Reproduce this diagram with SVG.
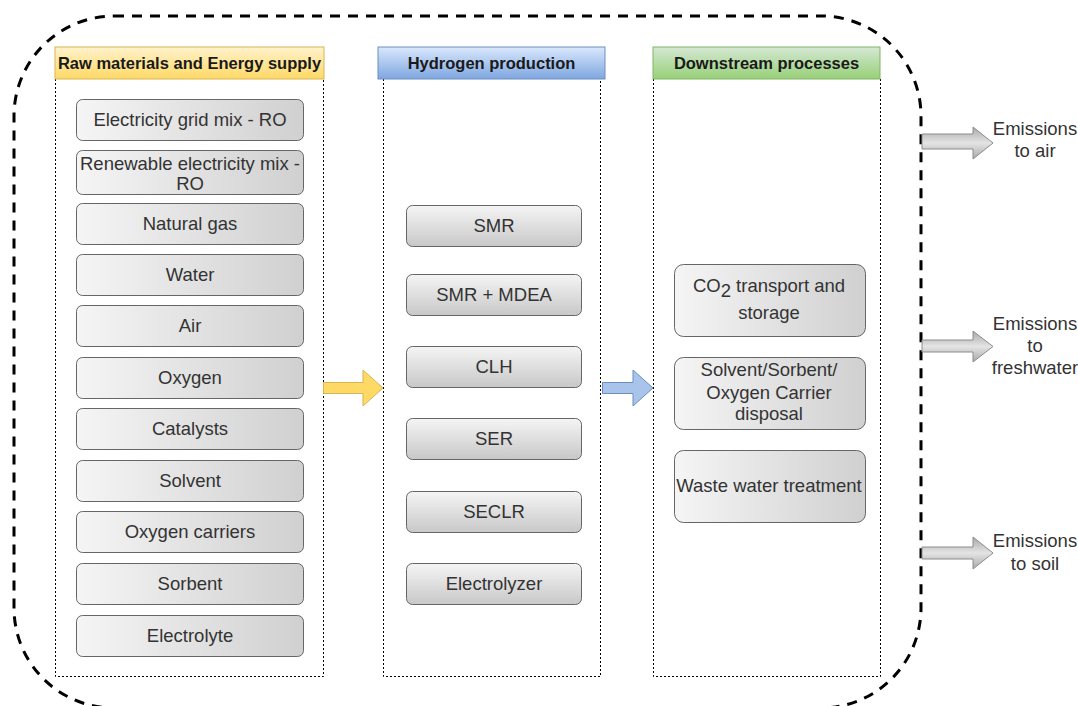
<svg xmlns="http://www.w3.org/2000/svg" width="1078" height="706" viewBox="0 0 1078 706">
<defs>
<linearGradient id="gEast" x1="0" y1="0" x2="1" y2="0"><stop offset="0" stop-color="#f5f5f5"/><stop offset="1" stop-color="#d0d0d0"/></linearGradient>
<linearGradient id="gSouth" x1="0" y1="0" x2="0" y2="1"><stop offset="0" stop-color="#f5f5f5"/><stop offset="1" stop-color="#c8c8c8"/></linearGradient>
<linearGradient id="gYellow" x1="0" y1="0" x2="0" y2="1"><stop offset="0" stop-color="#fff2cc"/><stop offset="1" stop-color="#ffd966"/></linearGradient>
<linearGradient id="gBlue" x1="0" y1="0" x2="0" y2="1"><stop offset="0" stop-color="#dae8fc"/><stop offset="1" stop-color="#7ea6e0"/></linearGradient>
<linearGradient id="gGreen" x1="0" y1="0" x2="0" y2="1"><stop offset="0" stop-color="#d5e8d4"/><stop offset="1" stop-color="#97d077"/></linearGradient>
<linearGradient id="gGray" x1="0" y1="0" x2="0" y2="1"><stop offset="0" stop-color="#a8a8a8"/><stop offset="0.5" stop-color="#e4e4e4"/><stop offset="1" stop-color="#a8a8a8"/></linearGradient>
<style>
text{font-family:"Liberation Sans",Arial,sans-serif;}
.lbl{font-size:18.5px;fill:#333333;text-anchor:middle;}
.hdr{font-size:16.5px;font-weight:bold;fill:#1a1a1a;text-anchor:middle;}
.be{fill:url(#gEast);stroke:#666666;stroke-width:1;}
.bs{fill:url(#gSouth);stroke:#666666;stroke-width:1;}
.col{fill:none;stroke:#000000;stroke-width:1;stroke-dasharray:2 2;}
.outer{fill:none;stroke:#000000;stroke-width:3;stroke-dasharray:10 8;}
.ga{fill:url(#gGray);stroke:#8c8c8c;stroke-width:1;}
</style>
</defs>
<rect width="1078" height="706" fill="#ffffff"/>
<g id="boundary"><rect class="outer" x="14" y="16" width="907" height="692" rx="100" ry="100"/></g>

<g id="col1">
<path class="col" d="M55.5 79 V676.5 H323.5 V79"/>
<rect x="55" y="47" width="269" height="32" fill="url(#gYellow)" stroke="#d6b656"/>
<text class="hdr" x="189.5" y="69">Raw materials and Energy supply</text>
</g>
<g id="col2">
<path class="col" d="M383.5 79 V676.5 H600.5 V79"/>
<rect x="378" y="47" width="227" height="32" fill="url(#gBlue)" stroke="#6c8ebf"/>
<text class="hdr" x="491.5" y="69">Hydrogen production</text>
</g>
<g id="col3">
<path class="col" d="M653.5 79 V676.5 H880.5 V79"/>
<rect x="653" y="47" width="227" height="32" fill="url(#gGreen)" stroke="#82b366"/>
<text class="hdr" x="766.5" y="69">Downstream processes</text>
</g>

<g id="n-grid"><rect class="be" x="76.5" y="99.5" width="227" height="41" rx="6"/><text class="lbl" x="190" y="125.5">Electricity grid mix - RO</text></g>
<g id="n-renew"><rect class="be" x="76.5" y="150.5" width="227" height="44" rx="6"/><text class="lbl" x="190" y="169.5">Renewable electricity mix -</text><text class="lbl" x="190" y="189.5">RO</text></g>
<g id="n-gas"><rect class="be" x="76.5" y="203.5" width="227" height="41" rx="6"/><text class="lbl" x="190" y="229.5">Natural gas</text></g>
<g id="n-water"><rect class="be" x="76.5" y="254.5" width="227" height="41" rx="6"/><text class="lbl" x="190" y="280.5">Water</text></g>
<g id="n-air"><rect class="be" x="76.5" y="305.5" width="227" height="41" rx="6"/><text class="lbl" x="190" y="331.5">Air</text></g>
<g id="n-oxygen"><rect class="be" x="76.5" y="357.5" width="227" height="41" rx="6"/><text class="lbl" x="190" y="383.5">Oxygen</text></g>
<g id="n-catalysts"><rect class="be" x="76.5" y="408.5" width="227" height="41" rx="6"/><text class="lbl" x="190" y="434.5">Catalysts</text></g>
<g id="n-solvent"><rect class="be" x="76.5" y="460.5" width="227" height="41" rx="6"/><text class="lbl" x="190" y="486.5">Solvent</text></g>
<g id="n-ocarriers"><rect class="be" x="76.5" y="511.5" width="227" height="41" rx="6"/><text class="lbl" x="190" y="537.5">Oxygen carriers</text></g>
<g id="n-sorbent"><rect class="be" x="76.5" y="563.5" width="227" height="41" rx="6"/><text class="lbl" x="190" y="589.5">Sorbent</text></g>
<g id="n-electrolyte"><rect class="be" x="76.5" y="615.5" width="227" height="41" rx="6"/><text class="lbl" x="190" y="641.5">Electrolyte</text></g>

<g id="n-smr"><rect class="bs" x="406.5" y="205.5" width="175" height="41" rx="6"/><text class="lbl" x="494" y="231.5">SMR</text></g>
<g id="n-smrmdea"><rect class="bs" x="406.5" y="274.5" width="175" height="41" rx="6"/><text class="lbl" x="494" y="300.5">SMR + MDEA</text></g>
<g id="n-clh"><rect class="bs" x="406.5" y="346.5" width="175" height="41" rx="6"/><text class="lbl" x="494" y="372.5">CLH</text></g>
<g id="n-ser"><rect class="bs" x="406.5" y="418.5" width="175" height="41" rx="6"/><text class="lbl" x="494" y="444.5">SER</text></g>
<g id="n-seclr"><rect class="bs" x="406.5" y="491.5" width="175" height="41" rx="6"/><text class="lbl" x="494" y="517.5">SECLR</text></g>
<g id="n-electrolyzer"><rect class="bs" x="406.5" y="563.5" width="175" height="41" rx="6"/><text class="lbl" x="494" y="589.5">Electrolyzer</text></g>

<g id="n-co2"><rect class="be" x="674.5" y="264.5" width="191" height="72" rx="9"/><text class="lbl" x="769" y="292">CO<tspan dy="5">2</tspan><tspan dy="-5"> transport and</tspan></text><text class="lbl" x="769" y="318.5">storage</text></g>
<g id="n-disposal"><rect class="be" x="674.5" y="357.5" width="191" height="72" rx="9"/><text class="lbl" x="769" y="375.5">Solvent/Sorbent/</text><text class="lbl" x="769" y="398.5">Oxygen Carrier</text><text class="lbl" x="769" y="419.5">disposal</text></g>
<g id="n-waste"><rect class="be" x="674.5" y="450.5" width="191" height="72" rx="9"/><text class="lbl" x="769" y="491.5">Waste water treatment</text></g>

<g id="e-air"><text class="lbl" x="1035" y="134.5">Emissions</text><text class="lbl" x="1035" y="156.5">to air</text></g>
<g id="e-fresh"><text class="lbl" x="1035" y="329.5">Emissions</text><text class="lbl" x="1035" y="351.5">to</text><text class="lbl" x="1035" y="373.5">freshwater</text></g>
<g id="e-soil"><text class="lbl" x="1035" y="546.5">Emissions</text><text class="lbl" x="1035" y="569.5">to soil</text></g>

<g id="connectors">
<path d="M323.5 382.5 H363 V370 L383 388 L363 406 V393.5 H323.5 Z" fill="#ffd966" stroke="#d6b656" stroke-width="1"/>
<path d="M602.5 382.5 H633 V370 L653 388 L633 406 V393.5 H602.5 Z" fill="#a9c4eb" stroke="#6c8ebf" stroke-width="1"/>
<path class="ga" d="M922 134 H973 V127 L993 143 L973 159 V149 H922 Z"/>
<path class="ga" d="M922 340 H973 V331 L993 346.5 L973 362 V352 H922 Z"/>
<path class="ga" d="M922 547 H973 V537 L993 553 L973 569 V559 H922 Z"/>
</g>
</svg>
